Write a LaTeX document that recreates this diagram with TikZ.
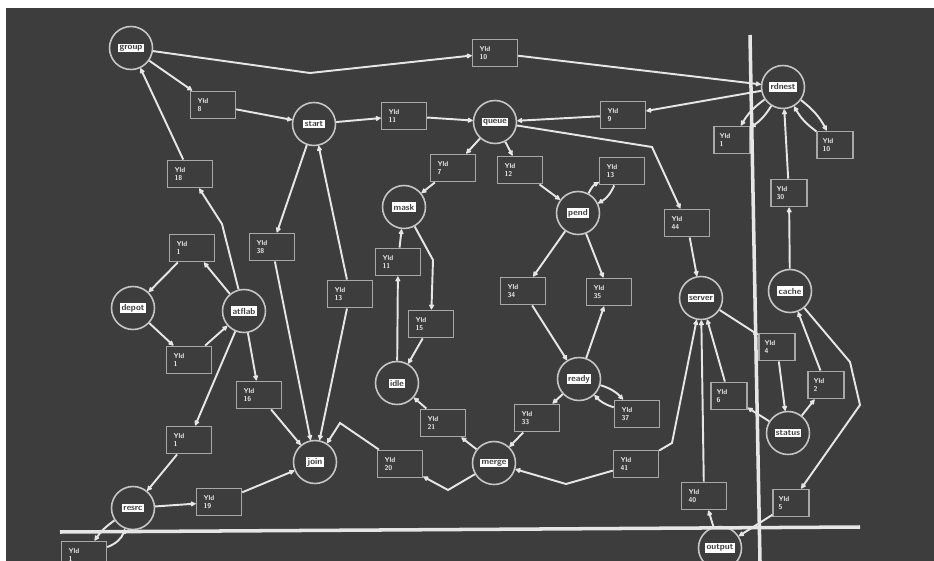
\documentclass[tikz,border=0pt]{standalone}
\usepackage{xcolor}
\usepackage{tikz}
\usetikzlibrary{arrows.meta}
\usetikzlibrary{shapes}
\usetikzlibrary{calc}
\definecolor{screen}{HTML}{3C3D3C}
\definecolor{trace}{HTML}{E6E6E6}
\definecolor{rim}{HTML}{C6C6C6}
\definecolor{frame}{HTML}{A8A8A8}
\newcommand{\plab}[1]{{\setlength{\fboxsep}{0.8pt}\colorbox{white}{\textcolor{screen}{#1}}}}
\tikzset{
  % Common styles for the net
  >={Latex[length=3.6pt,width=3.6pt,round]},
  arc/.style={draw=trace, line width=1.1pt, ->},
  place/.style={draw=rim, fill=screen, circle, line width=0.9pt, minimum size=0.86cm, inner sep=0pt,
    font=\fontsize{5}{5}\selectfont\sffamily\bfseries},
  trans/.style={draw=frame, fill=screen, rectangle, line width=0.8pt, minimum width=0.9cm, minimum height=0.55cm,
    text width=0.62cm, align=left, inner sep=1pt, text=trace,
    font=\fontsize{4}{4.6}\selectfont\sffamily\bfseries},
  narrow/.style={minimum width=0.72cm, text width=0.5cm}
}

\begin{document}
\begin{tikzpicture}[x=0.02cm, y=-0.02cm]
    \useasboundingbox (0,0) rectangle (934,561);
    \clip (0,0) rectangle (934,561);
    \fill[white] (0,0) rectangle (934,561);
    \fill[screen] (6,8) rectangle (934,561);

    % Place nodes
    \node [place] (p1) at (131,48) {\plab{group}};
    \node [place] (p2) at (314,124) {\plab{start}};
    \node [place] (p3) at (495,122) {\plab{queue}};
    \node [place] (p4) at (783,87) {\plab{rdnest}};
    \node [place] (p5) at (404,207) {\plab{mask}};
    \node [place] (p6) at (578,213) {\plab{pend}};
    \node [place] (p7) at (133,308) {\plab{depot}};
    \node [place] (p8) at (244,311) {\plab{atflab}};
    \node [place] (p9) at (315,462) {\plab{join}};
    \node [place] (p10) at (133,508) {\plab{resrc}};
    \node [place] (p11) at (397,383) {\plab{idle}};
    \node [place] (p12) at (579,379) {\plab{ready}};
    \node [place] (p13) at (494,463) {\plab{merge}};
    \node [place] (p14) at (701,298) {\plab{server}};
    \node [place] (p15) at (790,291) {\plab{cache}};
    \node [place] (p16) at (788,433) {\plab{status}};
    \node [place] (p17) at (720,548) {\plab{output}};

    % Transition boxes
    \node [trans] (t1) at (213,105) {Yld\\8};
    \node [trans] (t2) at (190,174) {Yld\\18};
    \node [trans] (t3) at (192,248) {Yld\\1};
    \node [trans] (t4) at (272,247) {Yld\\38};
    \node [trans] (t5) at (404,116) {Yld\\11};
    \node [trans] (t6) at (495,53) {Yld\\10};
    \node [trans] (t7) at (623,115) {Yld\\9};
    \node [trans] (t8) at (453,168) {Yld\\7};
    \node [trans] (t9) at (520,170) {Yld\\12};
    \node [trans] (t10) at (622,171) {Yld\\13};
    \node [trans] (t11) at (687,223) {Yld\\44};
    \node [trans, narrow] (t12) at (732,140) {Yld\\1};
    \node [trans, narrow] (t13) at (835,145) {Yld\\10};
    \node [trans, narrow] (t14) at (789,193) {Yld\\30};
    \node [trans] (t15) at (398,262) {Yld\\11};
    \node [trans] (t16) at (350,294) {Yld\\13};
    \node [trans] (t17) at (431,324) {Yld\\15};
    \node [trans] (t18) at (523,291) {Yld\\34};
    \node [trans] (t19) at (609,292) {Yld\\35};
    \node [trans] (t20) at (189,360) {Yld\\1};
    \node [trans] (t21) at (259,395) {Yld\\16};
    \node [trans] (t22) at (189,440) {Yld\\1};
    \node [trans] (t23) at (219,502) {Yld\\19};
    \node [trans] (t24) at (400,464) {Yld\\20};
    \node [trans] (t25) at (443,423) {Yld\\21};
    \node [trans] (t26) at (537,418) {Yld\\33};
    \node [trans] (t27) at (637,414) {Yld\\37};
    \node [trans] (t28) at (636,464) {Yld\\41};
    \node [trans, narrow] (t29) at (729,396) {Yld\\6};
    \node [trans, narrow] (t30) at (777,347) {Yld\\4};
    \node [trans, narrow] (t31) at (826,385) {Yld\\2};
    \node [trans] (t32) at (704,496) {Yld\\40};
    \node [trans, narrow] (t33) at (791,503) {Yld\\5};
    \node [trans] (t34) at (84,555) {Yld\\1};

    % Bend points
    \coordinate (k1) at (310,73);
    \coordinate (k2) at (222,224);
    \coordinate (k4) at (448,490);
    \coordinate (k5) at (340,423);
    \coordinate (k6) at (433,260);
    \coordinate (k7) at (652,147);
    \coordinate (k8) at (850,362);
    \coordinate (k9) at (860,405);
    \coordinate (k10) at (672,443);
    \coordinate (k11) at (566,484);

    % Draw edges
    \path [arc] (p1) -- (k1) -- (t6);
    \path [arc] (t6) -- (p4);
    \path [arc] (p1) -- (t1);
    \path [arc] (t1) -- (p2);
    \path [arc] (t2) -- (p1);
    \path [arc] (p8) -- (k2) -- (t2);
    \path [arc] (p2) -- (t4);
    \path [arc] (t4) -- (p9);
    \path [arc] (t16) -- (p2);
    \path [arc] (t16) -- (p9);
    \path [arc] (p7) -- (t20);
    \path [arc] (t20) -- (p8);
    \path [arc] (t3) -- (p7);
    \path [arc] (p8) -- (t3);
    \path [arc] (p8) -- (t21);
    \path [arc] (p8) -- (t22);
    \path [arc] (t21) -- (p9);
    \path [arc] (t22) -- (p10);
    \path [arc] (p10) -- (t23);
    \path [arc] (t23) -- (p9);
    \path [arc] (p10) to[bend right=10] (t34);
    \path [arc] (t34) to[bend right=25] (p10);
    \path [arc] (p13) -- (k4) -- (t24);
    \path [arc] (t24) -- (k5) -- (p9);
    \path [arc] (t25) -- (p11);
    \path [arc] (p13) -- (t25);
    \path [arc] (p11) -- (t15);
    \path [arc] (t15) -- (p5);
    \path [arc] (p5) -- (k6) -- (t17);
    \path [arc] (t17) -- (p11);
    \path [arc] (p3) -- (t8);
    \path [arc] (t8) -- (p5);
    \path [arc] (p3) -- (t9);
    \path [arc] (t9) -- (p6);
    \path [arc] (p6) to[bend left=18] (t10);
    \path [arc] (t10) to[bend left=18] (p6);
    \path [arc] (p6) -- (t18);
    \path [arc] (p6) -- (t19);
    \path [arc] (t18) -- (p12);
    \path [arc] (p12) -- (t19);
    \path [arc] (p12) -- (t26);
    \path [arc] (t26) -- (p13);
    \path [arc] (p12) to[bend left=15] (t27);
    \path [arc] (t27) to[bend left=15] (p12);
    \path [arc] (p4) -- (t7);
    \path [arc] (t7) -- (p3);
    \path [arc] (p3) -- (k7) -- (t11);
    \path [arc] (t11) -- (p14);
    \path [arc] (p2) -- (t5);
    \path [arc] (t5) -- (p3);
    \path [arc] (p4) to[bend left=12] (t12);
    \path [arc] (p4) to[bend right=12] (t12);
    \path [arc] (p4) to[bend left=12] (t13);
    \path [arc] (t13) to[bend left=12] (p4);
    \path [arc] (t14) -- (p4);
    \path [arc] (p15) -- (t14);
    \path [arc] (t29) -- (p14);
    \path [arc] (p14) -- (t30);
    \path [arc] (t30) -- (p16);
    \path [arc] (p16) -- (t29);
    \path [arc] (p16) -- (t31);
    \path [arc] (t31) -- (p15);
    \path [arc] (p15) -- (k8) -- (k9) -- (t33);
    \path [arc] (t33) -- (p17);
    \path [arc] (t28) -- (k10) -- (p14);
    \path [arc] (t28) -- (k11) -- (p13);
    \path [arc] (t32) -- (p14);
    \path [arc] (p17) -- (t32);

    % Screen rulers
    \draw [trace, line width=2pt] (60,532) -- (860,527);
    \draw [trace, line width=2pt] (750,35) -- (760,561);
\end{tikzpicture}
\end{document}
